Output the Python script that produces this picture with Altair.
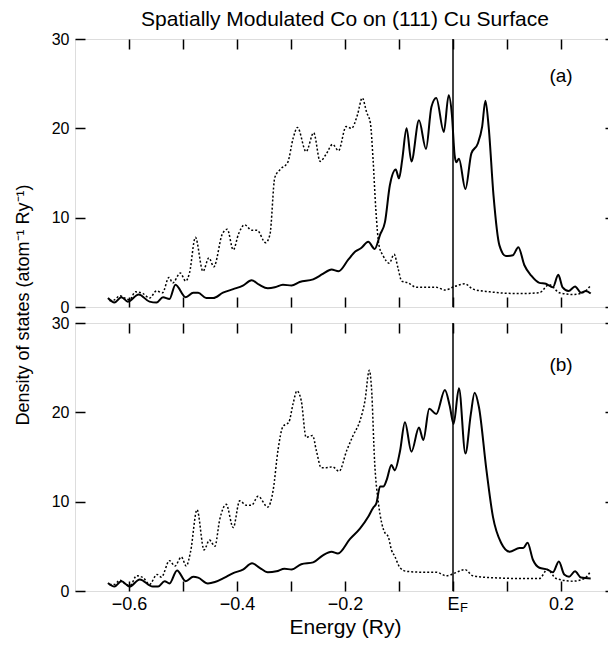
import altair as alt
import pandas as pd

# ---------------- data ----------------
# Panel (a): solid curve
a_solid_x = [-0.639, -0.627, -0.614, -0.602, -0.582, -0.562, -0.549, -0.537, -0.525, -0.514,
             -0.495, -0.481, -0.472, -0.457, -0.444, -0.426, -0.407, -0.389, -0.373, -0.359,
             -0.343, -0.330, -0.315, -0.299, -0.284, -0.259, -0.241, -0.225, -0.212, -0.194,
             -0.181, -0.170, -0.157, -0.145, -0.135, -0.126, -0.117, -0.106, -0.100, -0.094,
             -0.086, -0.077, -0.063, -0.050, -0.040, -0.031, -0.017, -0.008, -0.002, 0.003,
             0.006, 0.011, 0.023, 0.034, 0.046, 0.054, 0.060, 0.066, 0.075, 0.086,
             0.098, 0.111, 0.121, 0.132, 0.145, 0.160, 0.172, 0.185, 0.195, 0.203,
             0.214, 0.226, 0.237, 0.246, 0.255]
a_solid_y = [1.0, 0.5, 1.1, 0.6, 1.4, 0.6, 0.5, 1.1, 0.9, 2.5,
             1.1, 1.6, 1.6, 1.0, 1.0, 1.6, 2.0, 2.4, 3.0, 2.5,
             2.1, 2.2, 2.5, 2.4, 2.8, 3.1, 3.7, 4.2, 4.0, 5.3,
             6.2, 6.6, 7.3, 6.5, 8.1, 9.5, 13.6, 15.4, 14.4, 16.5,
             20.0, 16.3, 20.9, 17.7, 22.4, 23.4, 19.6, 23.7, 21.5, 17.0,
             16.2, 16.6, 13.2, 17.2, 18.3, 20.2, 23.1, 20.2, 12.5, 6.9,
             5.7, 5.8, 6.7, 4.7, 3.5, 2.7, 2.6, 2.2, 3.6, 2.2,
             1.8, 2.3, 1.6, 1.8, 1.5]

# Panel (a): dotted curve
a_dot_x = [-0.636, -0.627, -0.617, -0.608, -0.599, -0.588, -0.574, -0.562, -0.549, -0.538,
           -0.526, -0.519, -0.505, -0.495, -0.488, -0.477, -0.463, -0.452, -0.443, -0.427,
           -0.418, -0.407, -0.397, -0.386, -0.373, -0.363, -0.347, -0.339, -0.330, -0.320,
           -0.306, -0.296, -0.288, -0.272, -0.258, -0.246, -0.235, -0.223, -0.212, -0.198,
           -0.188, -0.177, -0.168, -0.160, -0.153, -0.148, -0.143, -0.137, -0.129, -0.118,
           -0.109, -0.102, -0.095, -0.083, -0.068, -0.031, -0.015, 0.003, 0.022, 0.037,
           0.068, 0.123, 0.160, 0.178, 0.197, 0.222, 0.240, 0.255]
a_dot_y = [0.7, 0.8, 1.25, 1.0, 0.8, 1.7, 1.5, 1.0, 1.8, 1.6,
           3.3, 2.7, 3.8, 2.9, 3.8, 7.8, 4.0, 5.5, 4.5, 8.2,
           8.7, 6.4, 8.2, 9.2, 8.6, 8.6, 7.2, 8.1, 14.5, 15.4,
           16.2, 18.9, 20.1, 17.4, 19.5, 16.3, 17.1, 18.2, 17.5, 20.2,
           20.0, 21.5, 23.4, 21.8, 20.6, 16.5, 11.0, 6.9, 5.7, 4.9,
           5.9, 4.4, 2.9, 2.7, 2.2, 2.2, 1.9, 2.3, 2.6, 2.0,
           1.7, 1.5, 1.6, 2.5, 1.6, 1.4, 1.6, 2.4]

# Panel (b): solid curve
b_solid_x = [-0.639, -0.627, -0.614, -0.599, -0.580, -0.556, -0.546, -0.534, -0.525, -0.511,
             -0.495, -0.481, -0.472, -0.454, -0.441, -0.423, -0.407, -0.389, -0.372, -0.358,
             -0.343, -0.327, -0.312, -0.299, -0.281, -0.259, -0.241, -0.225, -0.213, -0.191,
             -0.172, -0.157, -0.148, -0.142, -0.135, -0.129, -0.123, -0.114, -0.108, -0.098,
             -0.089, -0.077, -0.063, -0.055, -0.044, -0.031, -0.015, -0.006, 0.001, 0.011,
             0.023, 0.033, 0.040, 0.048, 0.062, 0.074, 0.089, 0.105, 0.123, 0.130,
             0.138, 0.148, 0.160, 0.175, 0.185, 0.196, 0.206, 0.215, 0.226, 0.237,
             0.255]
b_solid_y = [0.9, 0.5, 1.1, 0.5, 1.3, 0.5, 0.5, 1.1, 0.85, 2.3,
             1.1, 1.6, 1.5, 0.85, 1.0, 1.5, 2.0, 2.4, 3.1, 2.6,
             2.1, 2.2, 2.5, 2.4, 3.0, 3.2, 4.0, 4.4, 4.2, 5.8,
             7.0, 8.3, 9.3, 9.8, 11.7, 11.7, 12.4, 14.1, 13.5, 15.7,
             18.9, 15.6, 18.3, 16.9, 20.4, 19.8, 22.5, 20.7, 18.7, 22.7,
             15.4, 19.8, 22.2, 20.6, 13.5, 8.3, 5.4, 4.4, 4.8, 4.8,
             5.4, 3.5, 2.6, 2.4, 2.1, 3.3, 1.85, 1.6, 2.2, 1.5,
             1.4]

# Panel (b): dotted curve
b_dot_x = [-0.636, -0.627, -0.617, -0.606, -0.598, -0.586, -0.574, -0.562, -0.548, -0.540,
           -0.525, -0.515, -0.503, -0.494, -0.486, -0.474, -0.461, -0.451, -0.441, -0.432,
           -0.420, -0.407, -0.395, -0.383, -0.373, -0.361, -0.343, -0.333, -0.324, -0.315,
           -0.304, -0.296, -0.289, -0.281, -0.272, -0.260, -0.253, -0.244, -0.235, -0.223,
           -0.211, -0.197, -0.185, -0.172, -0.163, -0.155, -0.151, -0.145, -0.138, -0.132,
           -0.126, -0.120, -0.114, -0.108, -0.098, -0.086, -0.055, -0.031, -0.012, 0.003,
           0.022, 0.037, 0.068, 0.129, 0.160, 0.175, 0.191, 0.222, 0.243, 0.255]
b_dot_y = [0.74, 0.74, 1.2, 0.74, 0.6, 1.7, 1.5, 0.74, 1.85, 1.55,
           3.4, 2.8, 3.8, 2.8, 4.4, 9.1, 4.6, 5.7, 5.0, 8.0,
           9.7, 7.1, 10.1, 9.6, 9.6, 10.6, 9.4, 11.3, 15.8, 18.4,
           18.9, 21.0, 22.4, 21.3, 17.2, 17.4, 15.7, 13.8, 13.8, 13.9,
           13.4, 15.7, 17.4, 19.1, 21.3, 24.7, 22.8, 14.3, 9.8, 7.6,
           6.5, 6.1, 4.6, 3.9, 2.6, 2.2, 2.1, 2.1, 1.7, 2.0,
           2.4, 1.7, 1.5, 1.4, 1.4, 2.4, 1.4, 1.1, 1.4, 2.2]

x_ticks = [-0.6, -0.5, -0.4, -0.3, -0.2, -0.1, 0.0, 0.1, 0.2]
y_ticks = [0, 10, 20, 30]
fermi_energy = [0.0]
panel_tags = ["(a)", "(b)"]
tag_x = [0.2, 0.2]
tag_y = [25.9, 25.3]

title_text = "Spatially Modulated Co on (111) Cu Surface"
y_title = "Density of states  (atom\u207b\u00b9 Ry\u207b\u00b9)"
x_title = "Energy  (Ry)"

FONT = "Liberation Sans"
W, H = 540, 268
TICK = 10

xscale = alt.Scale(domain=[-0.7, 0.3], nice=False, zero=False)
yscale = alt.Scale(domain=[0, 30], nice=False)

label_expr = ("abs(datum.value) < 1e-9 ? 'E' : "
              "(abs(round(datum.value * 10)) % 2 == 0 ? format(datum.value, '.1f') : '')")


def inner_axis(orient, values, **kw):
    return alt.Axis(orient=orient, values=values, offset=-TICK, tickSize=TICK,
                    domain=False, grid=False, tickColor="black", tickWidth=1.5,
                    **kw)


def panel(sx, sy, dx, dy, idx, bottom_labels):
    solid_df = pd.DataFrame({"energy": sx, "dos": sy})
    dot_df = pd.DataFrame({"energy": dx, "dos": dy})
    if bottom_labels:
        xaxis = inner_axis("bottom", x_ticks, labelExpr=label_expr, labelPadding=4,
                           labelFontSize=18, labelFont=FONT, labelColor="black",
                           title=x_title, titleFontSize=21, titleFont=FONT,
                           titleFontWeight="normal", titleColor="black", titlePadding=3)
    else:
        xaxis = inner_axis("bottom", x_ticks, labels=False, title=None)
    yaxis = inner_axis("left", y_ticks, labelPadding=6, labelFontSize=16, labelFont=FONT,
                       labelColor="black", format="d", title=None)
    topaxis = inner_axis("top", x_ticks, labels=False, title=None)
    rightaxis = inner_axis("right", y_ticks, labels=False, title=None)

    solid = alt.Chart(solid_df).mark_line(
        color="black", strokeWidth=2, interpolate="monotone"
    ).encode(
        x=alt.X("energy:Q", scale=xscale, axis=xaxis),
        y=alt.Y("dos:Q", scale=yscale, axis=yaxis),
    )
    dotted = alt.Chart(dot_df).mark_line(
        color="black", strokeWidth=1.5, strokeDash=[2, 2], interpolate="monotone"
    ).encode(
        x=alt.X("energy:Q", scale=xscale, axis=topaxis),
        y=alt.Y("dos:Q", scale=yscale, axis=rightaxis),
    )
    ef = alt.Chart(pd.DataFrame({"energy": fermi_energy})).mark_rule(
        color="black", strokeWidth=1.5
    ).encode(x=alt.X("energy:Q", scale=xscale, axis=None))
    tag = alt.Chart(pd.DataFrame({"energy": [tag_x[idx]], "dos": [tag_y[idx]],
                                  "label": [panel_tags[idx]]})).mark_text(
        fontSize=19, font=FONT, color="black"
    ).encode(
        x=alt.X("energy:Q", scale=xscale, axis=None),
        y=alt.Y("dos:Q", scale=yscale, axis=None),
        text="label:N",
    )
    layers = [solid, dotted, ef, tag]
    if idx == 0:
        ylab = alt.Chart(pd.DataFrame({"t": [y_title]})).mark_text(
            angle=270, fontSize=18, font=FONT, color="black", align="center", baseline="middle"
        ).encode(x=alt.value(-51), y=alt.value(266), text="t:N")
        layers.append(ylab)
    else:
        sub = alt.Chart(pd.DataFrame({"energy": fermi_energy, "s": ["F"]})).mark_text(
            fontSize=13, font=FONT, color="black", dx=11, align="center", baseline="middle"
        ).encode(x=alt.X("energy:Q", scale=xscale, axis=None), y=alt.value(H + 17), text="s:N")
        layers.append(sub)
    ch = alt.layer(*layers).resolve_axis(x="independent", y="independent").properties(width=W, height=H)
    if idx == 0:
        ch = ch.properties(title=alt.TitleParams(text=title_text, fontSize=21, font=FONT,
                                                 fontWeight="normal", anchor="middle",
                                                 color="black", offset=1))
    return ch


top_panel = panel(a_solid_x, a_solid_y, a_dot_x, a_dot_y, 0, False)
bottom_panel = panel(b_solid_x, b_solid_y, b_dot_x, b_dot_y, 1, True)

chart = alt.vconcat(top_panel, bottom_panel, spacing=16, bounds="flush").properties(
    padding={"left": 6, "top": 0, "right": -9, "bottom": 0}
).configure_view(stroke="black", strokeWidth=2).configure(background="white")

chart.save("out.html", embed_options={"renderer": "svg", "actions": False})
